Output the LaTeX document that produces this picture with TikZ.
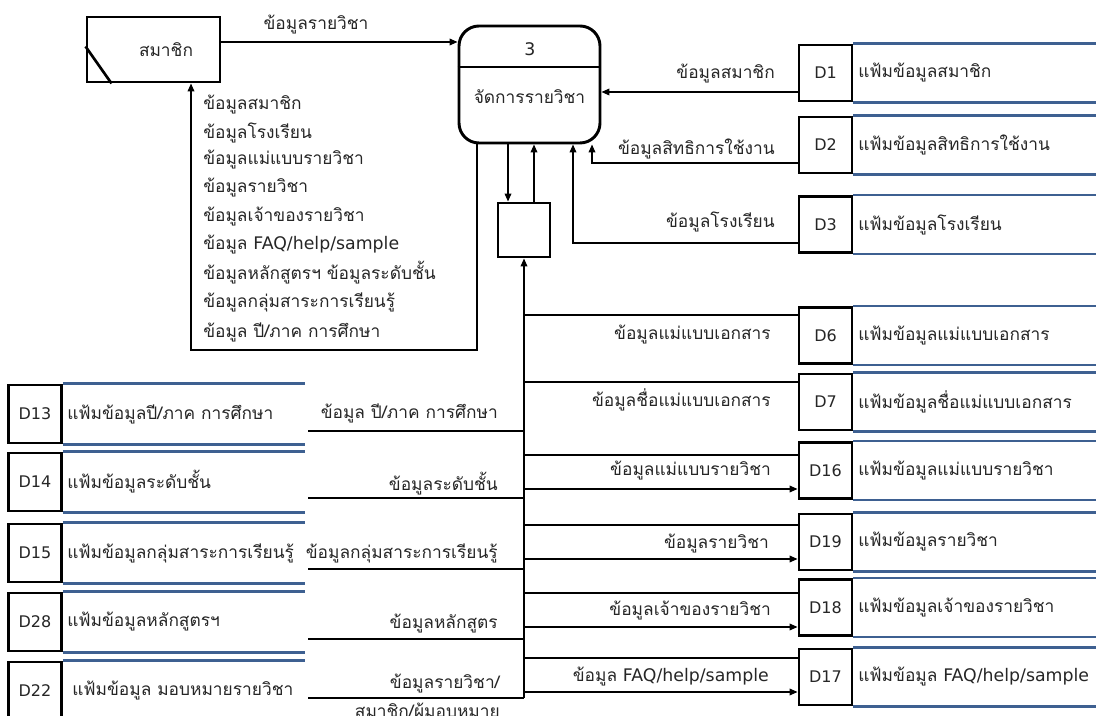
\documentclass[tikz,border=0pt]{standalone}
\usepackage{fontspec}
\setmainfont[Script=Thai]{Loma}
\newfontfamily\latinfont{DejaVu Sans}
\usetikzlibrary{arrows.meta}
\definecolor{storeblue}{RGB}{62,96,145}
\definecolor{ink}{RGB}{38,38,38}
% Latin words inside Thai labels
\newcommand\lat[1]{{\latinfont #1}}
% data store on the right: name, centre y, id, title
\newcommand\storeR[4]{%
  \node[idbox] (#1) at (825.5,#2) {#3};
  \node[anchor=west] (#1t) at (858,#2) {#4};
  \draw[sline] (#1.north east) -- ++(243,0);
  \draw[sline] (#1.south east) -- ++(243,0);}
% data store on the left: name, centre y, id, title, title x
\newcommand\storeL[5]{%
  \node[idbox, minimum height=43.5pt] (#1) at (35,#2) {#3};
  \node[anchor=west] (#1t) at (#5,#2) {#4};
  \draw[sline] (#1.north east) -- ++(242,0);
  \draw[sline] (#1.south east) -- ++(242,0);}
\begin{document}
\begin{tikzpicture}[x=0.75pt,y=-0.75pt,
  every node/.style={font=\fontsize{13}{15}\selectfont, text=ink, inner sep=0pt},
  flow/.style={line width=1.1pt},
  arr/.style={flow, -{Triangle[length=6pt,width=5pt]}},
  heavy/.style={draw, line width=2.2pt},
  idbox/.style={heavy, minimum width=39.75pt, minimum height=42pt,
    font=\latinfont\fontsize{12}{14}\selectfont},
  sline/.style={draw=storeblue, line width=1.6pt},
  lblR/.style={anchor=east},
  fbl/.style={anchor=west}]
\useasboundingbox (0,0) rectangle (1104,716);
\clip (0,0) rectangle (1104,716);
\fill[white] (0,0) rectangle (1104,716);

% external entity
\node[heavy, minimum width=99.75pt, minimum height=48.75pt] (mem) at (153.5,49.5) {};
\node (memt) at (166,50) {สมาชิก};
\draw[line width=2pt] ([yshift=27.75pt]mem.south west) -- ([xshift=19.5pt]mem.south west);

% process 3
\node[heavy, rounded corners=15pt, minimum width=105.75pt, minimum height=87.75pt] (proc) at (529.5,84.5) {};
\coordinate (dv) at (0,67);
\draw[line width=2pt] (proc.west |- dv) -- (proc.east |- dv);
\node (pid) at (530,49) {\lat{3}};
\node (pname) at (529.5,97) {จัดการรายวิชา};

% small buffer box
\node[heavy, minimum width=39pt, minimum height=40.5pt] (sbox) at (524,230) {};

% data stores
\storeR{D1}{73}{D1}{แฟ้มข้อมูลสมาชิก}
\storeR{D2}{145}{D2}{แฟ้มข้อมูลสิทธิการใช้งาน}
\storeR{D3}{224.5}{D3}{แฟ้มข้อมูลโรงเรียน}
\storeR{D6}{335.5}{D6}{แฟ้มข้อมูลแม่แบบเอกสาร}
\storeR{D7}{402}{D7}{แฟ้มข้อมูลชื่อแม่แบบเอกสาร}
\storeR{D16}{470.5}{D16}{แฟ้มข้อมูลแม่แบบรายวิชา}
\storeR{D19}{542}{D19}{แฟ้มข้อมูลรายวิชา}
\storeR{D18}{607.5}{D18}{แฟ้มข้อมูลเจ้าของรายวิชา}
\storeR{D17}{677}{D17}{แฟ้มข้อมูล \lat{FAQ/help/sample}}
\storeL{D13}{414}{D13}{แฟ้มข้อมูลปี/ภาค การศึกษา}{67}
\storeL{D14}{482}{D14}{แฟ้มข้อมูลระดับชั้น}{67}
\storeL{D15}{553}{D15}{แฟ้มข้อมูลกลุ่มสาระการเรียนรู้}{67}
\storeL{D28}{622}{D28}{แฟ้มข้อมูลหลักสูตรฯ}{67}
\storeL{D22}{691}{D22}{แฟ้มข้อมูล มอบหมายรายวิชา}{72}

% member -> process
\coordinate (y42) at (0,42);
\draw[arr] (mem.east |- y42) -- (proc.west |- y42);
\node (l0) at (316,25) {ข้อมูลรายวิชา};

% process -> member (return path)
\coordinate (fbR) at (477,350);
\coordinate (fbL) at (191,350);
\draw[arr] (proc.south -| fbR) -- (fbR) -- (fbL) -- (mem.south -| fbL);
\node[fbl] (fb1) at (203,105) {ข้อมูลสมาชิก};
\node[fbl] (fb2) at (203,133) {ข้อมูลโรงเรียน};
\node[fbl] (fb3) at (203,160) {ข้อมูลแม่แบบรายวิชา};
\node[fbl] (fb4) at (203,188) {ข้อมูลรายวิชา};
\node[fbl] (fb5) at (203,217) {ข้อมูลเจ้าของรายวิชา};
\node[fbl] (fb6) at (203,245) {ข้อมูล \lat{FAQ/help/sample}};
\node[fbl] (fb7) at (203,273) {ข้อมูลหลักสูตรฯ ข้อมูลระดับชั้น};
\node[fbl] (fb8) at (203,302) {ข้อมูลกลุ่มสาระการเรียนรู้};
\node[fbl] (fb9) at (203,332) {ข้อมูล ปี/ภาค การศึกษา};

% process <-> buffer
\coordinate (xd) at (508,0);
\coordinate (xu) at (534,0);
\draw[arr] (proc.south -| xd) -- (sbox.north -| xd);
\draw[arr] (sbox.north -| xu) -- (proc.south -| xu);

% stores D1-D3 -> process
\coordinate (y92) at (0,92);
\draw[arr] (D1.west |- y92) -- (proc.east |- y92);
\coordinate (c2) at (592,163);
\draw[arr] (D2.west |- c2) -- (c2) -- (proc.south -| c2);
\coordinate (c3) at (573,243);
\draw[arr] (D3.west |- c3) -- (c3) -- (proc.south -| c3);
\node[lblR] (l1) at (775,74) {ข้อมูลสมาชิก};
\node[lblR] (l2) at (775,149) {ข้อมูลสิทธิการใช้งาน};
\node[lblR] (l3) at (775,222) {ข้อมูลโรงเรียน};

% trunk into the buffer
\coordinate (tbot) at (0,698);
\draw[arr] (sbox.south |- tbot) -- (sbox.south);

% branches to the right-hand stores
\foreach \yy/\st/\sty in {315/D6/flow, 382/D7/flow, 455/D16/flow, 489/D16/arr,
    525/D19/flow, 559/D19/arr, 593/D18/flow, 627/D18/arr, 658/D17/flow, 692/D17/arr}{
  \coordinate (tmp) at (0,\yy);
  \draw[\sty] (sbox.south |- tmp) -- (\st.west |- tmp);
}
\node[lblR] (r6) at (771,335) {ข้อมูลแม่แบบเอกสาร};
\node[lblR] (r7) at (771,400) {ข้อมูลชื่อแม่แบบเอกสาร};
\node[lblR] (r16) at (771,471) {ข้อมูลแม่แบบรายวิชา};
\node[lblR] (r19) at (769,544) {ข้อมูลรายวิชา};
\node[lblR] (r18) at (771,611) {ข้อมูลเจ้าของรายวิชา};
\node[lblR] (r17) at (769,677) {ข้อมูล \lat{FAQ/help/sample}};

% branches from the left-hand stores
\foreach \yy in {431,498,569,639,698}{
  \coordinate (tmp) at (308,\yy);
  \draw[flow] (tmp) -- (sbox.south |- tmp);
}
\node[lblR] (q13) at (498,413) {ข้อมูล ปี/ภาค การศึกษา};
\node[lblR] (q14) at (498,484) {ข้อมูลระดับชั้น};
\node[lblR] (q15) at (498,553) {ข้อมูลกลุ่มสาระการเรียนรู้};
\node[lblR] (q28) at (498,624) {ข้อมูลหลักสูตร};
\node[lblR, align=right, font=\fontsize{13}{21.75}\selectfont] (q22) at (500,698) {ข้อมูลรายวิชา/\\สมาชิก/ผู้มอบหมาย};
\end{tikzpicture}
\end{document}
